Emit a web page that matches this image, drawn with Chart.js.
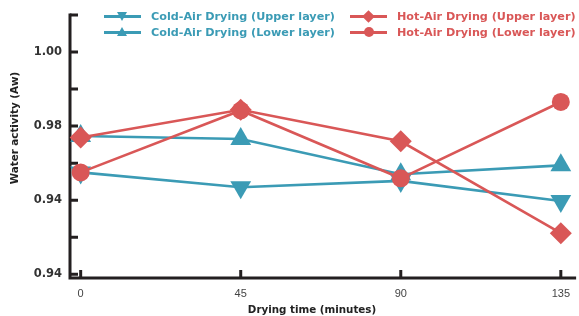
<!DOCTYPE html>
<html>
<head>
<meta charset="utf-8">
<title>Water activity vs drying time</title>
<script src="https://cdn.jsdelivr.net/npm/chart.js@4.4.1/dist/chart.umd.min.js"></script>
<style>
  html, body { margin: 0; padding: 0; background: #fff; }
  #wrap { position: relative; width: 579px; height: 316px; }
  #legend .item {
    position: absolute; height: 16px; display: flex; align-items: center;
    font: bold 11.2px "DejaVu Sans", sans-serif; white-space: nowrap;
  }
  #legend .key { position: relative; width: 37px; height: 16px; margin-right: 10px; }
  #legend .key .line { position: absolute; left: 0; right: 0; top: 6.5px; height: 3px; }
  #legend .key .mk { position: absolute; }
</style>
</head>
<body>
<div id="wrap">
  <canvas id="chart" width="579" height="316"></canvas>
  <div id="legend"></div>
</div>
<script>
// Data
const dryingTimes = [0, 45, 90, 135];
const coldUpper = [0.9675, 0.9635, 0.9652, 0.9598];
const coldLower = [0.9773, 0.9765, 0.9670, 0.9694];
const hotUpper = [0.9769, 0.9844, 0.9759, 0.9511];
const hotLower = [0.9675, 0.9842, 0.9659, 0.9865];

const seriesLabels = [
  'Cold-Air Drying (Upper layer)',
  'Cold-Air Drying (Lower layer)',
  'Hot-Air Drying (Upper layer)',
  'Hot-Air Drying (Lower layer)'
];

// tick values and their printed labels (the source prints 0.94 twice)
const yTickValues = [0.94, 0.95, 0.96, 0.97, 0.98, 0.99, 1.00, 1.01];
const yTickLabels = ['0.94', '', '0.94', '', '0.98', '', '1.00', ''];
const xTickValues = [0, 45, 90, 135];

const TEAL = '#3b9bb5';
const RED = '#d95757';
const AXIS = '#231f20';

const toPoints = values => values.map((v, i) => ({ x: dryingTimes[i], y: v }));

/**
 * Axis lines, inward ticks and axis titles
 */
const axisDecor = {
  id: 'axisDecor',
  beforeDatasetsDraw(chart) {
    const { ctx, chartArea, scales: { x, y } } = chart;
    ctx.save();
    ctx.strokeStyle = AXIS;
    ctx.lineWidth = 3;
    ctx.lineCap = 'butt';

    ctx.beginPath();
    ctx.moveTo(chartArea.left, y.getPixelForValue(1.01) - 1.5);
    ctx.lineTo(chartArea.left, chartArea.bottom);
    ctx.lineTo(chartArea.right, chartArea.bottom);
    ctx.stroke();

    ctx.beginPath();
    yTickValues.forEach(v => {
      const py = y.getPixelForValue(v);
      ctx.moveTo(chartArea.left, py);
      ctx.lineTo(chartArea.left + 8, py);
    });
    xTickValues.forEach(v => {
      const px = x.getPixelForValue(v);
      ctx.moveTo(px, chartArea.bottom);
      ctx.lineTo(px, chartArea.bottom - 8);
    });
    ctx.stroke();

    ctx.fillStyle = '#222';
    ctx.font = 'bold 10.3px "DejaVu Sans", sans-serif';
    ctx.textAlign = 'center';
    ctx.textBaseline = 'middle';
    ctx.fillText('Drying time (minutes)', 312, 310);

    ctx.translate(15, 128);
    ctx.rotate(-Math.PI / 2);
    ctx.fillText('Water activity (Aw)', 0, 0);
    ctx.restore();
  }
};

const ctx = document.getElementById('chart').getContext('2d');

new Chart(ctx, {
  type: 'line',
  data: {
    datasets: [
      {
        label: seriesLabels[0],
        data: toPoints(coldUpper),
        borderColor: TEAL,
        backgroundColor: TEAL,
        pointStyle: 'triangle',
        rotation: 180,
        pointRadius: 12,
        order: 1
      },
      {
        label: seriesLabels[1],
        data: toPoints(coldLower),
        borderColor: TEAL,
        backgroundColor: TEAL,
        pointStyle: 'triangle',
        pointRadius: 12,
        order: 1
      },
      {
        label: seriesLabels[2],
        data: toPoints(hotUpper),
        borderColor: RED,
        backgroundColor: RED,
        pointStyle: 'rectRot',
        pointRadius: 11,
        order: 0
      },
      {
        label: seriesLabels[3],
        data: toPoints(hotLower),
        borderColor: RED,
        backgroundColor: RED,
        pointStyle: 'circle',
        pointRadius: 9,
        order: 0
      }
    ]
  },
  options: {
    responsive: false,
    animation: false,
    devicePixelRatio: 1,
    clip: false,
    layout: { autoPadding: false, padding: { top: 11, right: 0, left: 0, bottom: 0 } },
    elements: {
      line: { borderWidth: 2.6, tension: 0 },
      point: { borderWidth: 0, hoverRadius: 12 }
    },
    plugins: {
      legend: { display: false },
      tooltip: { enabled: false }
    },
    scales: {
      x: {
        type: 'linear',
        min: -3,
        max: 139.3,
        afterFit: s => { s.height = 38; },
        afterBuildTicks: s => { s.ticks = xTickValues.map(v => ({ value: v })); },
        grid: { display: false, drawTicks: false },
        border: { display: false },
        ticks: {
          padding: 9,
          color: '#444',
          font: { family: '"Liberation Sans", Arial, sans-serif', size: 11 }
        }
      },
      y: {
        min: 0.939,
        max: 1.01,
        afterFit: s => { s.width = 70; },
        afterBuildTicks: s => { s.ticks = yTickValues.map(v => ({ value: v })); },
        grid: { display: false, drawTicks: false },
        border: { display: false },
        ticks: {
          padding: 8,
          color: '#333',
          font: { family: '"DejaVu Sans", sans-serif', size: 11.5, weight: 'bold' },
          callback: value => {
            const i = yTickValues.findIndex(v => Math.abs(v - value) < 1e-6);
            return i >= 0 ? yTickLabels[i] : '';
          }
        }
      }
    }
  },
  plugins: [axisDecor]
});

// HTML legend: line + marker, text in series colour
const legendItems = [
  { label: seriesLabels[0], color: TEAL, marker: 'down', left: 104, top: 8 },
  { label: seriesLabels[1], color: TEAL, marker: 'up', left: 104, top: 24 },
  { label: seriesLabels[2], color: RED, marker: 'diamond', left: 350, top: 8 },
  { label: seriesLabels[3], color: RED, marker: 'circle', left: 350, top: 24 }
];

function markerStyle(type, color) {
  switch (type) {
    case 'down':
      return `left:13px;top:4px;width:0;height:0;border-left:5.5px solid transparent;border-right:5.5px solid transparent;border-top:9px solid ${color};`;
    case 'up':
      return `left:13px;top:3px;width:0;height:0;border-left:5.5px solid transparent;border-right:5.5px solid transparent;border-bottom:9px solid ${color};`;
    case 'diamond':
      return `left:14px;top:3.5px;width:9px;height:9px;background:${color};transform:rotate(45deg);`;
    default:
      return `left:13.5px;top:3px;width:10px;height:10px;border-radius:50%;background:${color};`;
  }
}

document.getElementById('legend').innerHTML = legendItems.map(item => `
  <div class="item" style="left:${item.left}px;top:${item.top}px;color:${item.color}">
    <span class="key">
      <span class="line" style="background:${item.color}"></span>
      <span class="mk" style="${markerStyle(item.marker, item.color)}"></span>
    </span>
    <span>${item.label}</span>
  </div>
`).join('');
</script>
</body>
</html>
